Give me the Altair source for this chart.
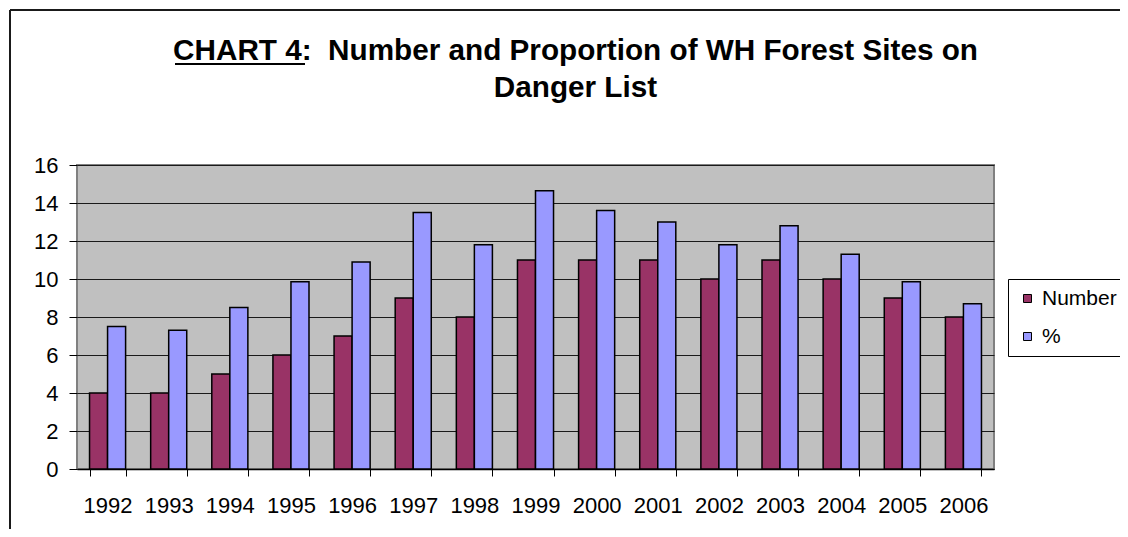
import altair as alt
import pandas as pd

years = ["1992", "1993", "1994", "1995", "1996", "1997", "1998", "1999",
         "2000", "2001", "2002", "2003", "2004", "2005", "2006"]
number = [4, 4, 5, 6, 7, 9, 8, 11, 11, 11, 10, 11, 10, 9, 8]
percent = [7.5, 7.3, 8.5, 9.85, 10.9, 13.5, 11.8, 14.65, 13.6, 13.0, 11.8, 12.8, 11.3, 9.85, 8.7]
series = ["Number", "%"]
colors = ["#993366", "#9999FF"]
title_lines = ["CHART 4:\u00a0 Number and Proportion of WH Forest Sites on", "Danger List"]
y_ticks = [0, 2, 4, 6, 8, 10, 12, 14, 16]

FONT = "Liberation Sans, Arial, sans-serif"

df = pd.DataFrame({
    "year": years * 2,
    "series": [series[0]] * len(years) + [series[1]] * len(years),
    "value": number + percent,
})

bars = alt.Chart(df).mark_bar(stroke="black", strokeWidth=1.5).encode(
    x=alt.X("year:N", sort=years, title=None,
            scale=alt.Scale(paddingInner=0.41, paddingOuter=0.205),
            axis=alt.Axis(labelAngle=0, labelFontSize=22, labelFont=FONT, labelColor="black",
                          labelPadding=19, tickBand="extent", tickSize=7, tickColor="black",
                          tickWidth=1, domainColor="black", domainWidth=1.5, grid=False)),
    xOffset=alt.XOffset("series:N", sort=series,
                        scale=alt.Scale(paddingInner=0, paddingOuter=0)),
    y=alt.Y("value:Q", title=None, scale=alt.Scale(domain=[0, 16]),
            axis=alt.Axis(values=y_ticks, labelFontSize=22, labelFont=FONT, labelColor="black",
                          labelPadding=11, tickSize=8, tickColor="black", domain=False,
                          grid=True, gridColor="#1a1a1a", gridWidth=1)),
    color=alt.Color("series:N", sort=series,
                    scale=alt.Scale(domain=series, range=colors),
                    legend=alt.Legend(title=None, orient="none", legendX=931, legendY=114,
                                      strokeColor="black", fillColor="white", padding=9,
                                      rowPadding=16, symbolType="square", symbolSize=64,
                                      symbolStrokeColor="black", symbolStrokeWidth=1,
                                      labelFontSize=21, labelFont=FONT, labelColor="black",
                                      labelOffset=4)),
)

deco = pd.DataFrame({"a": [0]})
top_border = alt.Chart(deco).mark_rule(color="#1a1a1a", strokeWidth=2).encode(
    x=alt.value(-67), x2=alt.value(1200), y=alt.value(-155))
left_border = alt.Chart(deco).mark_rule(color="#1a1a1a", strokeWidth=2).encode(
    x=alt.value(-67), y=alt.value(-155), y2=alt.value(600))
underline = alt.Chart(deco).mark_rule(color="black", strokeWidth=2).encode(
    x=alt.value(98), x2=alt.value(228), y=alt.value(-101))

chart = alt.layer(bars, top_border, left_border, underline).properties(
    width=917, height=304,
    title=alt.TitleParams(text=title_lines, fontSize=29.7, font=FONT, fontWeight="bold",
                          color="black", anchor="middle", dx=40, lineHeight=37, offset=-95),
    autosize=alt.AutoSizeParams(type="none"),
    padding={"left": 69, "top": 157, "right": 126, "bottom": 60},
    background="white",
).configure_view(fill="#C0C0C0", stroke="#808080", strokeWidth=2)

chart.save("out.html", embed_options={"renderer": "svg", "actions": False})
